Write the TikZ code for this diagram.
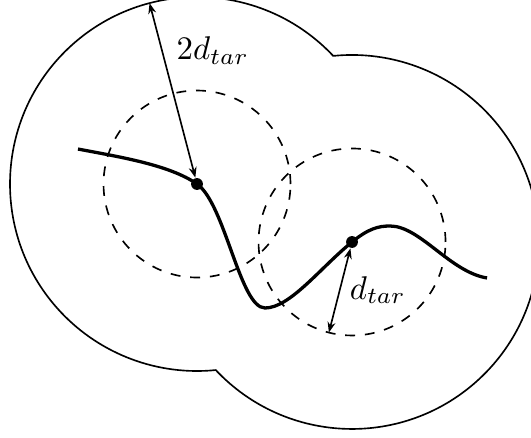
\documentclass[tikz,border=0pt]{standalone}
\usetikzlibrary{calc,arrows.meta}
\tikzset{
  outline/.style={line width=0.5pt},
  reach/.style={line width=0.5pt, dashed},
  traj/.style={line width=1pt},
  waypt/.style={circle, fill=black, inner sep=0pt, minimum size=3.6pt},
  dimarrow/.style={{Stealth[length=3.2pt,width=2.4pt]}-{Stealth[length=3.2pt,width=2.4pt]}, line width=0.5pt},
  lab/.style={inner sep=0pt, anchor=base west}
}
\begin{document}
\begin{tikzpicture}
\clip (-2.107,1.968) rectangle (3.572,-2.706);
\coordinate (c1) at (0,0);
\coordinate (c2) at (1.658,-0.620);
% outer boundary: union of two circles of radius 2d
\draw[outline] ($(c1)+(43.24:2cm)$) arc[start angle=43.24, end angle=275.76, radius=2cm]
  arc[start angle=223.24, end angle=455.76, radius=2cm] -- cycle;
% dashed circles of radius d
\draw[reach] (c1) circle[radius=1cm];
\draw[reach] (c2) circle[radius=1cm];
% trajectory
\draw[traj] (-1.273,0.374) .. controls (-0.824,0.289) and (-0.289,0.203) .. (c1)
  .. controls (0.30,-0.21) and (0.460,-1.326) .. (0.727,-1.326)
  .. controls (0.995,-1.326) and (1.316,-0.898) .. (c2)
  .. controls (1.83,-0.48) and (1.936,-0.449) .. (2.064,-0.449)
  .. controls (2.385,-0.449) and (2.706,-0.941) .. (3.102,-1.005);
\node[waypt] (p1) at (c1) {};
\node[waypt] (p2) at (c2) {};
\coordinate (e1) at ($(c1)+(104.7:2cm)$);
\coordinate (e2) at ($(c2)+(255.66:1cm)$);
\draw[dimarrow] (p1) -- (e1);
\draw[dimarrow] (p2) -- (e2);
\node[lab] (l1) at (-0.225,1.334) {$2d_{tar}$};
\node[lab] (l2) at (1.629,-1.230) {$d_{tar}$};
\end{tikzpicture}
\end{document}
